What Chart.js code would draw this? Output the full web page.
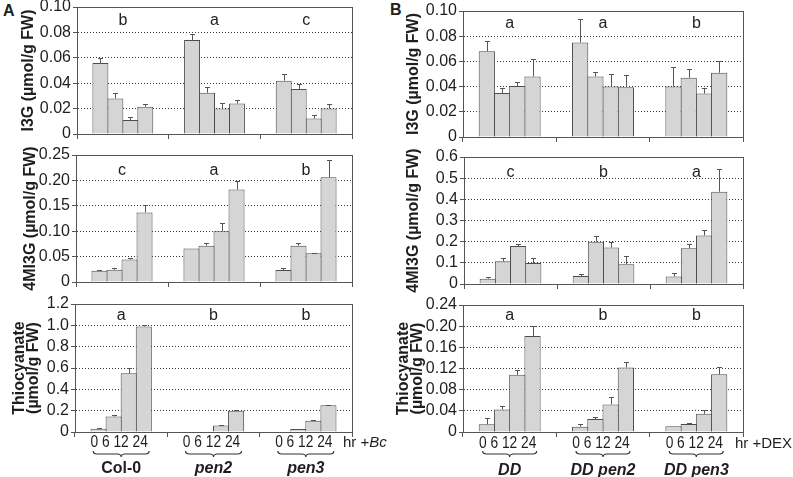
<!DOCTYPE html>
<html><head><meta charset="utf-8">
<script src="https://cdn.jsdelivr.net/npm/chart.js@4.4.1/dist/chart.umd.min.js"></script>
<style>
html,body{margin:0;padding:0;background:#fff;}
body{position:relative;width:793px;height:477px;overflow:hidden;font-family:"Liberation Sans",Arial,sans-serif;}
canvas{position:absolute;}
.pl{position:absolute;font-weight:bold;font-size:16px;line-height:16px;color:#222;}
</style></head><body>
<div class="pl" style="left:3px;top:3px">A</div>
<div class="pl" style="left:390px;top:2px">B</div>
<script>
// ---------- data ----------
const hours = ['0', '6', '12', '24'];
const hourRow = '0 6 12 24';
const genotypesA = ['Col-0', 'pen2', 'pen3'];
const genotypesB = ['DD', 'DD pen2', 'DD pen3'];
const italicA = [false, true, true];
const italicB = [true, true, true];
const unitA = ['hr +', 'Bc'];      // second part italic
const unitB = ['hr +DEX', ''];

// values per genotype: [0 h, 6 h, 12 h, 24 h]
const aI3G      = [[0.056, 0.028, 0.011, 0.0215], [0.074, 0.0325, 0.020, 0.024], [0.042, 0.0355, 0.0123, 0.020]];
const aI3GErr   = [[0.0035, 0.0045, 0.002, 0.0018], [0.0045, 0.0045, 0.0043, 0.003], [0.0049, 0.0038, 0.0024, 0.004]];
const aI3GSig   = ['b', 'a', 'c'];

const a4MI3G    = [[0.022, 0.024, 0.0445, 0.137], [0.066, 0.0715, 0.100, 0.182], [0.0235, 0.0715, 0.0565, 0.206]];
const a4MI3GErr = [[0.0015, 0.0045, 0.0025, 0.014], [0, 0.0045, 0.016, 0.017], [0.004, 0.005, 0.0015, 0.034]];
const a4MI3GSig = ['c', 'a', 'b'];

const aThio     = [[0.03, 0.145, 0.55, 0.99], [0, 0, 0.062, 0.20], [0, 0.028, 0.105, 0.25]];
const aThioErr  = [[0.012, 0.012, 0.047, 0.015], [0, 0, 0.006, 0.01], [0, 0.004, 0.008, 0.005]];
const aThioSig  = ['a', 'b', 'b'];

const bI3G      = [[0.068, 0.035, 0.0405, 0.048], [0.075, 0.048, 0.040, 0.0395], [0.040, 0.047, 0.0345, 0.051]];
const bI3GErr   = [[0.008, 0.004, 0.003, 0.014], [0.019, 0.0035, 0.0097, 0.0095], [0.0158, 0.0066, 0.004, 0.009]];
const bI3GSig   = ['a', 'a', 'b'];

const b4MI3G    = [[0.025, 0.107, 0.18, 0.0995], [0.038, 0.20, 0.172, 0.093], [0.036, 0.169, 0.229, 0.436]];
const b4MI3GErr = [[0.008, 0.016, 0.008, 0.022], [0.008, 0.029, 0.028, 0.038], [0.018, 0.019, 0.027, 0.106]];
const b4MI3GSig = ['c', 'b', 'a'];

const bThio     = [[0.0145, 0.0425, 0.108, 0.1815], [0.010, 0.0245, 0.052, 0.122], [0.011, 0.015, 0.0345, 0.109]];
const bThioErr  = [[0.0115, 0.0065, 0.009, 0.0185], [0.005, 0.0045, 0.015, 0.0105], [0, 0.002, 0.0075, 0.013]];
const bThioSig  = ['a', 'b', 'b'];

const titleI3G  = 'I3G (µmol/g FW)';
const title4MI3G = '4MI3G (µmol/g FW)';
const titleThio = ['Thiocyanate', '(µmol/g FW)'];

// ---------- styling / layout ----------
const FONT = '"Liberation Sans", Arial, sans-serif';
Chart.defaults.font.family = FONT;
Chart.defaults.color = '#222';
const TEXT = '#1e1e1e', AXIS = '#555';

const decor = {
  id: 'decor',
  afterDatasetsDraw(chart, args, o) {
    const ctx = chart.ctx, ys = chart.scales.y;
    ctx.save();
    ctx.strokeStyle = AXIS; ctx.lineWidth = 1;
    chart.data.datasets.forEach((ds, i) => {
      chart.getDatasetMeta(i).data.forEach((el, j) => {
        const e = ds.err[j];
        if (!e) return;
        const x = Math.round(el.x) + 0.5;
        const y1 = Math.round(ys.getPixelForValue(ds.data[j] + e)) + 0.5;
        ctx.beginPath();
        ctx.moveTo(x, el.y); ctx.lineTo(x, y1);
        ctx.moveTo(x - 2.5, y1); ctx.lineTo(x + 2.5, y1);
        ctx.stroke();
      });
    });
    ctx.restore();
  },
  afterDraw(chart, args, o) {
    const ctx = chart.ctx, a = chart.chartArea, xs = chart.scales.x;
    const al = v => Math.round(v - 0.5) + 0.5;
    ctx.save();
    ctx.strokeStyle = AXIS; ctx.lineWidth = 1;
    ctx.strokeRect(al(a.left), al(a.top), al(a.right) - al(a.left), al(a.bottom) - al(a.top));
    ctx.fillStyle = TEXT;
    ctx.font = '16px ' + FONT;
    ctx.textAlign = 'center'; ctx.textBaseline = 'alphabetic';
    o.letters.forEach((t, j) => ctx.fillText(t, xs.getPixelForValue(j), a.top + o.letterY));
    const b = o.bottom;
    if (b) {
      const base = a.bottom;
      ctx.textBaseline = 'middle';
      chart.data.labels.forEach((lab, j) => {
        const cx = xs.getPixelForValue(j), w = b.braceW;
        // hour row
        ctx.save();
        ctx.font = '16px ' + FONT;
        ctx.translate(cx + b.hourDX, base + b.hourY);
        ctx.scale(0.86, 1);
        ctx.fillText(hourRow, 0, 0);
        ctx.restore();
        // brace
        ctx.strokeStyle = '#333'; ctx.lineWidth = 1.2;
        const yT = base + b.braceY, yL = yT + 3, yP = yT + 6;
        ctx.beginPath();
        ctx.moveTo(cx - w, yT);
        ctx.quadraticCurveTo(cx - w, yL, cx - w + 4, yL);
        ctx.lineTo(cx - 4, yL);
        ctx.quadraticCurveTo(cx, yL, cx, yP);
        ctx.quadraticCurveTo(cx, yL, cx + 4, yL);
        ctx.lineTo(cx + w - 4, yL);
        ctx.quadraticCurveTo(cx + w, yL, cx + w, yT);
        ctx.stroke();
        // genotype name
        ctx.font = (b.italic[j] ? 'italic ' : '') + 'bold 16px ' + FONT;
        ctx.fillText(lab, cx, base + b.nameY);
      });
      // unit text
      ctx.textAlign = 'left';
      let x = a.right + b.unitDX;
      b.unit.forEach((t, k) => {
        if (!t) return;
        ctx.font = (k === 1 ? 'italic ' : '') + '15px ' + FONT;
        ctx.fillText(t, x, base + b.hourY);
        x += ctx.measureText(t).width;
      });
    }
    ctx.restore();
  }
};

function panel(p) {
  const cv = document.createElement('canvas');
  cv.width = p.w; cv.height = p.h;
  cv.style.left = p.x + 'px'; cv.style.top = p.y + 'px';
  cv.style.width = p.w + 'px'; cv.style.height = p.h + 'px';
  document.body.appendChild(cv);
  const cp = 0.653;
  const ratio = (p.r - p.l) / 3 * cp / 4;
  const bp = 1 + 1 / ratio;
  const datasets = hours.map((h, i) => ({
    label: h,
    data: p.values.map(g => g[i]),
    err: p.errors.map(g => g[i]),
    backgroundColor: '#d5d5d5',
    borderColor: '#4d4d4d',
    borderWidth: 1,
    categoryPercentage: cp,
    barPercentage: bp
  }));
  new Chart(cv, {
    type: 'bar',
    data: { labels: p.groups, datasets },
    options: {
      responsive: false, animation: false, devicePixelRatio: 1,
      layout: { padding: { left: p.tl, top: p.t - p.y, right: p.x + p.w - p.r, bottom: 0 } },
      plugins: {
        legend: { display: false }, tooltip: { enabled: false },
        decor: { letters: p.letters, letterY: p.letterY, bottom: p.bottom }
      },
      scales: {
        x: {
          type: 'category', offset: true,
          grid: { offset: true, drawOnChartArea: false, drawTicks: true, tickLength: 5, color: AXIS, tickColor: AXIS },
          border: { display: true, color: AXIS, width: 1 },
          ticks: { display: false },
          afterFit(s) { s.height = p.y + p.h - p.b; }
        },
        y: {
          min: 0, max: p.max,
          ticks: { stepSize: p.step, autoSkip: false, padding: 2, color: TEXT, font: { size: 16 },
                   callback: v => v === 0 ? '0' : Number(v).toFixed(p.dec) },
          grid: { color: '#3a3a3a', lineWidth: 1, tickLength: 4, tickColor: AXIS, drawTicks: true },
          border: { display: true, color: AXIS, width: 1, dash: [1, 2] },
          title: { display: true, text: p.title, color: TEXT, padding: 0,
                   font: { size: 16, weight: 'bold', lineHeight: 0.9 } },
          afterFit(s) { s.width = p.l - p.x - p.tl; }
        }
      }
    },
    plugins: [decor]
  });
}

const bottomA = { hourDX: -2, hourY: 11, braceW: 28, braceY: 19, nameY: 37, italic: italicA, unit: unitA, unitDX: -9 };
const bottomB = { hourDX: -2, hourY: 12, braceW: 27, braceY: 19, nameY: 39, italic: italicB, unit: unitB, unitDX: -8 };

panel({ x: 0, y: -8, w: 396, h: 156, l: 77, r: 352, t: 7, b: 134, tl: 21,
        groups: genotypesA, values: aI3G, errors: aI3GErr, letters: aI3GSig, letterY: 18,
        max: 0.10, step: 0.02, dec: 2, title: titleI3G });
panel({ x: 0, y: 140, w: 396, h: 156, l: 76, r: 352, t: 155, b: 282, tl: 23,
        groups: genotypesA, values: a4MI3G, errors: a4MI3GErr, letters: a4MI3GSig, letterY: 20,
        max: 0.25, step: 0.05, dec: 2, title: title4MI3G });
panel({ x: 0, y: 290, w: 396, h: 187, l: 75, r: 352, t: 304, b: 432, tl: 12,
        groups: genotypesA, values: aThio, errors: aThioErr, letters: aThioSig, letterY: 16,
        max: 1.2, step: 0.2, dec: 1, title: titleThio, bottom: bottomA });
panel({ x: 396, y: -8, w: 397, h: 159, l: 463, r: 743, t: 11, b: 137, tl: 10,
        groups: genotypesB, values: bI3G, errors: bI3GErr, letters: bI3GSig, letterY: 17,
        max: 0.10, step: 0.02, dec: 2, title: titleI3G });
panel({ x: 396, y: 140, w: 397, h: 158, l: 464, r: 743, t: 157, b: 284, tl: 10,
        groups: genotypesB, values: b4MI3G, errors: b4MI3GErr, letters: b4MI3GSig, letterY: 20,
        max: 0.6, step: 0.1, dec: 1, title: title4MI3G });
panel({ x: 396, y: 290, w: 397, h: 187, l: 463, r: 743, t: 305, b: 432, tl: 0,
        groups: genotypesB, values: bThio, errors: bThioErr, letters: bThioSig, letterY: 15,
        max: 0.24, step: 0.04, dec: 2, title: titleThio, bottom: bottomB });
</script>
</body></html>
